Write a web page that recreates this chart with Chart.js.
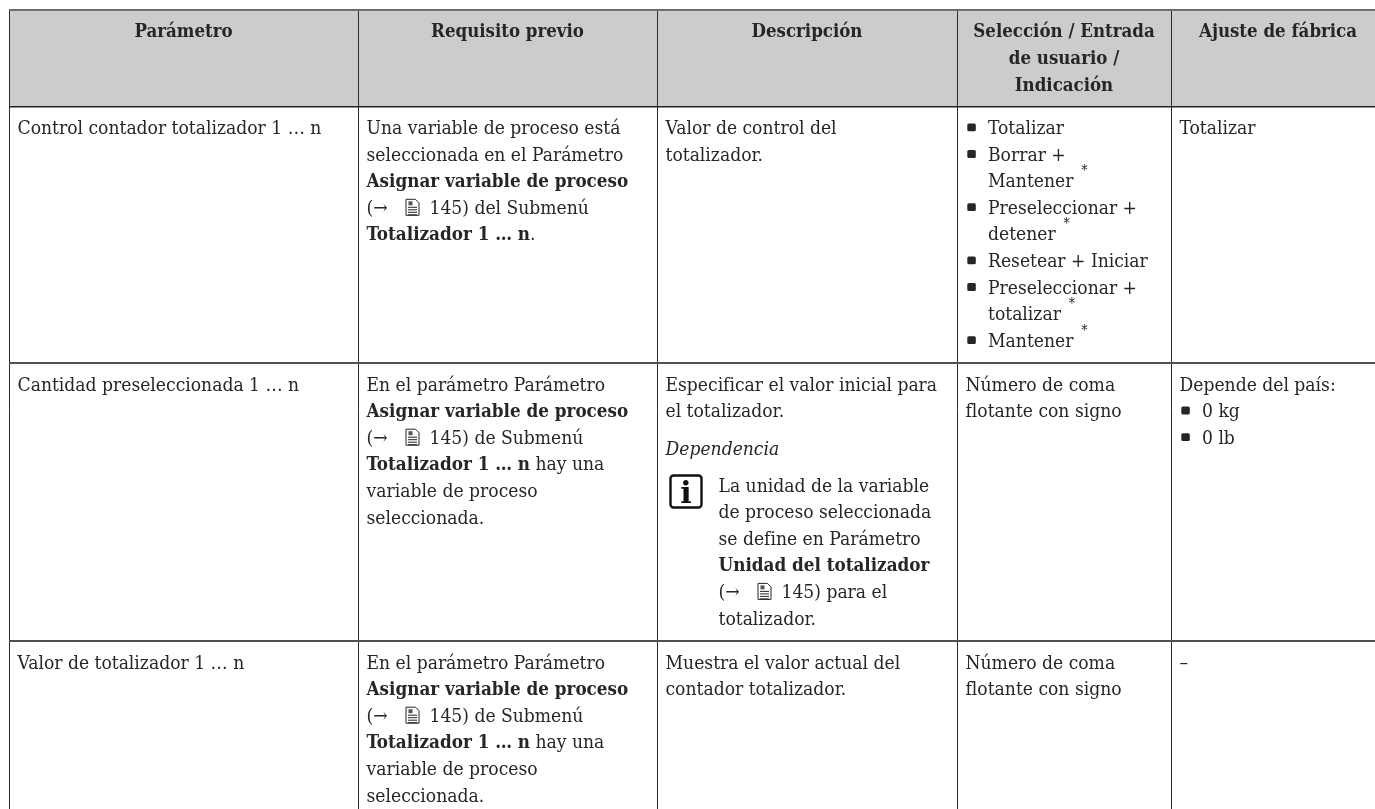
<!DOCTYPE html>
<html lang="es">
<head>
<meta charset="utf-8">
<title>Parámetros del totalizador</title>
<script src="https://cdn.jsdelivr.net/npm/chart.js@4/dist/chart.umd.min.js"></script>
<style>
  html, body { margin: 0; padding: 0; background: #fff; overflow: hidden; }
  #wrap { position: relative; width: 1375px; height: 809px; }
</style>
</head>
<body>
<div id="wrap"><canvas id="tableChart"></canvas></div>
<script>
// Table geometry (scale values)
const columnEdges = [9, 358, 657, 957, 1171];
const rowEdges = [10, 106.5, 363, 641];
const tableRight = 1385; // the last column runs past the page edge
const headerLabels = [
    ['Parámetro'],
    ['Requisito previo'],
    ['Descripción'],
    ['Selección / Entrada', 'de usuario /', 'Indicación'],
    ['Ajuste de fábrica']
];

// Cell text, one list per line. **bold**, _italic_, {doc} page icon, ^* raised star
const rowOne = [
    ['Control contador totalizador 1 … n'],
    ['Una variable de proceso está', 'seleccionada en el Parámetro', '**Asignar variable de proceso**', '(→ {doc} 145) del Submenú', '**Totalizador 1 … n**.'],
    ['Valor de control del', 'totalizador.'],
    ['• Totalizar', '• Borrar +', '  Mantener ^*', '• Preseleccionar +', '  detener ^*', '• Resetear + Iniciar', '• Preseleccionar +', '  totalizar ^*', '• Mantener ^*'],
    ['Totalizar']
];
const rowTwo = [
    ['Cantidad preseleccionada 1 … n'],
    ['En el parámetro Parámetro', '**Asignar variable de proceso**', '(→ {doc} 145) de Submenú', '**Totalizador 1 … n** hay una', 'variable de proceso', 'seleccionada.'],
    ['Especificar el valor inicial para', 'el totalizador.', '', '_Dependencia_', '', '{info}La unidad de la variable', '>de proceso seleccionada', '>se define en Parámetro', '>**Unidad del totalizador**', '>(→ {doc} 145) para el', '>totalizador.'],
    ['Número de coma', 'flotante con signo'],
    ['Depende del país:', '• 0 kg', '• 0 lb']
];
const rowThree = [
    ['Valor de totalizador 1 … n'],
    ['En el parámetro Parámetro', '**Asignar variable de proceso**', '(→ {doc} 145) de Submenú', '**Totalizador 1 … n** hay una', 'variable de proceso', 'seleccionada.'],
    ['Muestra el valor actual del', 'contador totalizador.'],
    ['Número de coma', 'flotante con signo'],
    ['–']
];
const bodyRows = [rowOne, rowTwo, rowThree];

const inkColor = '#262626';
const serifStack = '"DejaVu Serif Condensed", "DejaVu Serif", serif';
const regular = '19.1px ' + serifStack;
const bold = 'bold 18.7px ' + serifStack;
const headerFont = 'bold 18.5px ' + serifStack;
const italic = 'italic 19.1px ' + serifStack;
const star = '14px ' + serifStack;
const lineStep = 26.6;

function drawDocIcon(ctx, x, y) {
    ctx.save();
    ctx.strokeStyle = inkColor;
    ctx.lineWidth = 1;
    ctx.beginPath();
    ctx.moveTo(x + 1.5, y - 14.5);
    ctx.lineTo(x + 11, y - 14.5);
    ctx.lineTo(x + 14.5, y - 11);
    ctx.lineTo(x + 14.5, y + 1.5);
    ctx.lineTo(x + 1.5, y + 1.5);
    ctx.closePath();
    for (let i = 0; i < 4; i++) {
        ctx.moveTo(x + 3.5, y - 6.5 + i * 2.5);
        ctx.lineTo(x + 12.5, y - 6.5 + i * 2.5);
    }
    ctx.stroke();
    ctx.fillStyle = '#555';
    ctx.fillRect(x + 4, y - 12.5, 4, 4);
    ctx.restore();
}

function drawInfoIcon(ctx, x, y) {
    ctx.save();
    ctx.strokeStyle = '#111';
    ctx.lineWidth = 2.4;
    ctx.beginPath();
    ctx.roundRect(x, y - 15, 31, 32, 3);
    ctx.stroke();
    ctx.fillStyle = '#111';
    ctx.font = 'bold 30px "DejaVu Serif", serif';
    ctx.textAlign = 'center';
    ctx.fillText('i', x + 15.5, y + 12);
    ctx.restore();
}

// Writes one line, splitting it on the markup tokens
function drawLine(ctx, line, x, y) {
    let cursor = x;
    line.split(/(\*\*.+?\*\*|_.+?_|\{doc\}|\^\*)/).filter(Boolean).forEach(part => {
        if (part === '{doc}') {
            drawDocIcon(ctx, x + 38, y);
            cursor = x + 57.5;
            return;
        }
        if (part === '^*') {
            ctx.font = star;
            ctx.fillText('*', cursor + 2.5, y - 12);
            return;
        }
        let text = part;
        ctx.font = regular;
        if (part.startsWith('**')) {
            text = part.slice(2, -2);
            ctx.font = bold;
        } else if (part.startsWith('_')) {
            text = part.slice(1, -1);
            ctx.font = italic;
        }
        ctx.fillText(text, cursor, y);
        cursor += ctx.measureText(text).width;
    });
}

const tableText = {
    id: 'tableText',
    afterDatasetsDraw(chart) {
        const { ctx, scales: { x, y } } = chart;
        ctx.save();
        ctx.fillStyle = inkColor;
        ctx.textBaseline = 'alphabetic';

        headerLabels.forEach((lines, col) => {
            const left = x.getPixelForValue(columnEdges[col]);
            const right = x.getPixelForValue(col < 4 ? columnEdges[col + 1] : tableRight);
            ctx.textAlign = 'center';
            ctx.font = headerFont;
            lines.forEach((line, i) => {
                ctx.fillText(line, (left + right) / 2, y.getPixelForValue(rowEdges[0]) + 26.7 + i * 27);
            });
        });

        ctx.textAlign = 'left';
        bodyRows.forEach((cells, row) => {
            const top = y.getPixelForValue(rowEdges[row + 1]);
            cells.forEach((lines, col) => {
                const left = x.getPixelForValue(columnEdges[col]) + 8.5;
                lines.forEach((raw, i) => {
                    // the gaps around Dependencia are a bit taller than a plain blank line
                    let lineY = top + 27.5 + i * lineStep;
                    if (row === 1 && col === 2 && i >= 3) lineY -= 15;
                    if (row === 1 && col === 2 && i >= 5) lineY -= 17;
                    let line = raw;
                    let lineX = left;
                    if (line.startsWith('• ') || line.startsWith('  ')) {
                        if (line.startsWith('• ')) {
                            ctx.beginPath();
                            ctx.roundRect(lineX + 1.8, lineY - 10.5, 8.5, 7.8, 1.5);
                            ctx.fill();
                        }
                        line = line.slice(2);
                        lineX += 22.5;
                    }
                    if (line.startsWith('{info}')) {
                        drawInfoIcon(ctx, lineX + 5, lineY - 1);
                        line = line.slice(6);
                        lineX += 53;
                    } else if (line.startsWith('>')) {
                        line = line.slice(1);
                        lineX += 53;
                    }
                    drawLine(ctx, line, lineX, lineY);
                });
            });
        });
        ctx.restore();
    }
};

new Chart(document.getElementById('tableChart'), {
    type: 'line',
    data: {
        datasets: [{
            // header band: filled from the header's lower edge up to the top of the table
            data: [{ x: columnEdges[0], y: rowEdges[1] }, { x: 1375, y: rowEdges[1] }],
            borderWidth: 0,
            pointRadius: 0,
            fill: 'end',
            backgroundColor: '#cccccc'
        }]
    },
    options: {
        responsive: true,
        maintainAspectRatio: false,
        animation: false,
        layout: { padding: { left: 9, top: 10, right: 0, bottom: 0 } },
        plugins: { legend: { display: false }, tooltip: { enabled: false } },
        scales: {
            x: {
                type: 'linear',
                min: 9,
                max: 1375,
                afterBuildTicks: scale => { scale.ticks = columnEdges.map(value => ({ value })); },
                ticks: { display: false },
                border: { display: false },
                grid: { color: '#2a2a2a', lineWidth: 1, drawTicks: false, z: 1 }
            },
            y: {
                type: 'linear',
                min: 10,
                max: 809,
                reverse: true,
                afterBuildTicks: scale => { scale.ticks = rowEdges.map(value => ({ value })); },
                ticks: { display: false },
                border: { display: false },
                grid: {
                    // top rule and row rules are grey, the rule under the header is darker
                    color: ctx => ctx.index === 1 ? '#222' : ctx.index === 0 ? '#6e6e6e' : '#505050',
                    lineWidth: ctx => ctx.index === 1 ? 1.5 : 2,
                    drawTicks: false,
                    z: 1
                }
            }
        }
    },
    plugins: [tableText]
});
</script>
</body>
</html>
